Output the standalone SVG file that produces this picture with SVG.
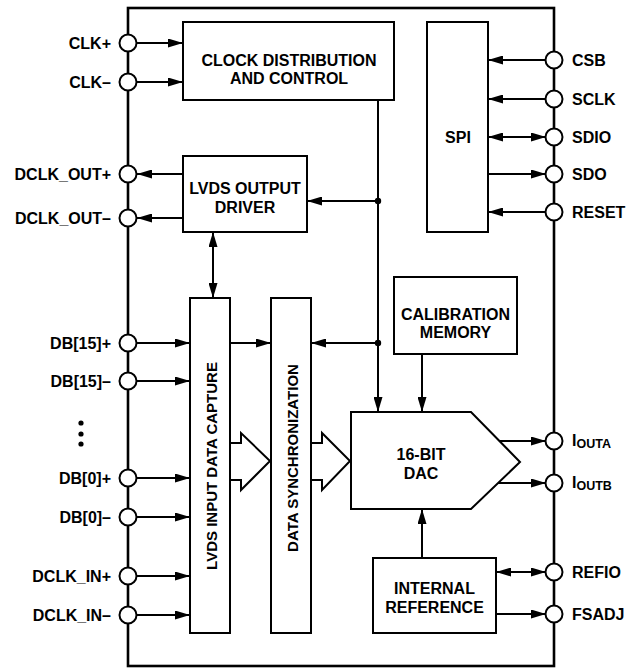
<svg xmlns="http://www.w3.org/2000/svg" width="635" height="668" viewBox="0 0 635 668">
<defs>
<style>
.box{fill:#fff;stroke:#000;stroke-width:2}
.outer{fill:none;stroke:#000;stroke-width:2.6}
.ln{fill:none;stroke:#000;stroke-width:2}
.pin{fill:#fff;stroke:#000;stroke-width:2}
.t{font-family:"Liberation Sans",Arial,sans-serif;font-weight:bold;font-size:16px;fill:#000}
.v{font-size:15px}
.c{text-anchor:middle}
.r{text-anchor:end}
.arr{marker-end:url(#ah)}
.bi{marker-start:url(#ah);marker-end:url(#ah)}
</style>
<marker id="ah" markerUnits="userSpaceOnUse" markerWidth="15" markerHeight="9" refX="15" refY="4.5" orient="auto-start-reverse" viewBox="0 0 15 9">
<path d="M0,0 L15,4.5 L0,9 z" fill="#000"/>
</marker>
</defs>
<rect class="outer" x="128" y="8" width="426" height="658"/>
<g id="connectors">
<line class="ln arr" x1="137" y1="43" x2="183" y2="43"/>
<line class="ln arr" x1="137" y1="82" x2="183" y2="82"/>
<line class="ln arr" x1="183" y1="174" x2="137" y2="174"/>
<line class="ln arr" x1="183" y1="218" x2="137" y2="218"/>
<line class="ln arr" x1="378" y1="100" x2="378" y2="412"/>
<circle cx="378" cy="201" r="3.2" fill="#000"/>
<line class="ln arr" x1="378" y1="201" x2="307" y2="201"/>
<circle cx="378" cy="343" r="3.2" fill="#000"/>
<line class="ln arr" x1="378" y1="343" x2="311" y2="343"/>
<line class="ln bi" x1="213" y1="232" x2="213" y2="298"/>
<line class="ln arr" x1="137" y1="343" x2="190" y2="343"/>
<line class="ln arr" x1="137" y1="381" x2="190" y2="381"/>
<line class="ln arr" x1="137" y1="478" x2="190" y2="478"/>
<line class="ln arr" x1="137" y1="517" x2="190" y2="517"/>
<line class="ln arr" x1="137" y1="576" x2="190" y2="576"/>
<line class="ln arr" x1="137" y1="615" x2="190" y2="615"/>
<line class="ln arr" x1="230" y1="343" x2="271" y2="343"/>
<line class="ln arr" x1="546" y1="60" x2="488" y2="60"/>
<line class="ln arr" x1="546" y1="99" x2="488" y2="99"/>
<line class="ln bi" x1="488" y1="137" x2="546" y2="137"/>
<line class="ln arr" x1="488" y1="174" x2="546" y2="174"/>
<line class="ln arr" x1="546" y1="212" x2="488" y2="212"/>
<line class="ln arr" x1="422" y1="354" x2="422" y2="412"/>
<line class="ln arr" x1="422" y1="558" x2="422" y2="509"/>
<line class="ln arr" x1="500" y1="441" x2="546" y2="441"/>
<line class="ln arr" x1="498" y1="483" x2="546" y2="483"/>
<line class="ln bi" x1="496" y1="572" x2="546" y2="572"/>
<line class="ln arr" x1="496" y1="614" x2="546" y2="614"/>
<polyline class="ln" points="230,443 241,443 241,433 270,461 241,490 241,480 230,480"/>
<polyline class="ln" points="311,443 322,443 322,433 350,461 322,490 322,480 311,480"/>
</g>
<g id="clock-distribution">
<rect class="box" x="183" y="22" width="211" height="78"/>
<text class="t c" x="289" y="66">CLOCK DISTRIBUTION</text>
<text class="t c" x="289" y="84">AND CONTROL</text>
</g>
<g id="spi">
<rect class="box" x="427" y="22" width="61" height="210"/>
<text class="t c" x="458" y="143">SPI</text>
</g>
<g id="lvds-output-driver">
<rect class="box" x="183" y="156" width="124" height="76"/>
<text class="t c" x="245" y="194">LVDS OUTPUT</text>
<text class="t c" x="245" y="213">DRIVER</text>
</g>
<g id="lvds-input-data-capture">
<rect class="box" x="190" y="298" width="40" height="335"/>
<text class="t v c" transform="translate(217,466) rotate(-90)">LVDS INPUT DATA CAPTURE</text>
</g>
<g id="data-synchronization">
<rect class="box" x="271" y="298" width="40" height="335"/>
<text class="t v c" transform="translate(297.5,458) rotate(-90)">DATA SYNCHRONIZATION</text>
</g>
<g id="calibration-memory">
<rect class="box" x="394" y="277" width="123" height="77"/>
<text class="t c" x="455.5" y="320">CALIBRATION</text>
<text class="t c" x="455.5" y="338">MEMORY</text>
</g>
<g id="dac">
<polygon class="box" points="351,412 471,412 520,462 471,509 351,509"/>
<text class="t c" x="421" y="460">16-BIT</text>
<text class="t c" x="421" y="479">DAC</text>
</g>
<g id="internal-reference">
<rect class="box" x="373" y="558" width="123" height="75"/>
<text class="t c" x="434.5" y="594">INTERNAL</text>
<text class="t c" x="434.5" y="613">REFERENCE</text>
</g>
<g id="pins-left">
<circle class="pin" cx="128" cy="43" r="8.5"/><text class="t r" x="111" y="48.5">CLK+</text>
<circle class="pin" cx="128" cy="82" r="8.5"/><text class="t r" x="111" y="87.5">CLK–</text>
<circle class="pin" cx="128" cy="174" r="8.5"/><text class="t r" x="111" y="179.5">DCLK_OUT+</text>
<circle class="pin" cx="128" cy="218" r="8.5"/><text class="t r" x="111" y="223.5">DCLK_OUT–</text>
<circle class="pin" cx="128" cy="343" r="8.5"/><text class="t r" x="111" y="348.5">DB[15]+</text>
<circle class="pin" cx="128" cy="381" r="8.5"/><text class="t r" x="111" y="386.5">DB[15]–</text>
<circle cx="81" cy="423" r="2.6" fill="#000"/>
<circle cx="81" cy="434" r="2.6" fill="#000"/>
<circle cx="81" cy="444" r="2.6" fill="#000"/>
<circle class="pin" cx="128" cy="478" r="8.5"/><text class="t r" x="111" y="483.5">DB[0]+</text>
<circle class="pin" cx="128" cy="517" r="8.5"/><text class="t r" x="111" y="522.5">DB[0]–</text>
<circle class="pin" cx="128" cy="576" r="8.5"/><text class="t r" x="111" y="581.5">DCLK_IN+</text>
<circle class="pin" cx="128" cy="615" r="8.5"/><text class="t r" x="111" y="620.5">DCLK_IN–</text>
</g>
<g id="pins-right">
<circle class="pin" cx="554" cy="60" r="8.5"/><text class="t" x="572" y="65.5">CSB</text>
<circle class="pin" cx="554" cy="99" r="8.5"/><text class="t" x="572" y="104.5">SCLK</text>
<circle class="pin" cx="554" cy="137" r="8.5"/><text class="t" x="572" y="142.5">SDIO</text>
<circle class="pin" cx="554" cy="174" r="8.5"/><text class="t" x="572" y="179.5">SDO</text>
<circle class="pin" cx="554" cy="212" r="8.5"/><text class="t" x="572" y="217.5">RESET</text>
<circle class="pin" cx="554" cy="441" r="8.5"/><text class="t" x="572" y="446">I<tspan font-size="12.5" dy="2">OUTA</tspan></text>
<circle class="pin" cx="554" cy="483" r="8.5"/><text class="t" x="572" y="488">I<tspan font-size="12.5" dy="2">OUTB</tspan></text>
<circle class="pin" cx="554" cy="572" r="8.5"/><text class="t" x="572" y="577.5">REFIO</text>
<circle class="pin" cx="554" cy="614" r="8.5"/><text class="t" x="572" y="619.5">FSADJ</text>
</g>
</svg>
